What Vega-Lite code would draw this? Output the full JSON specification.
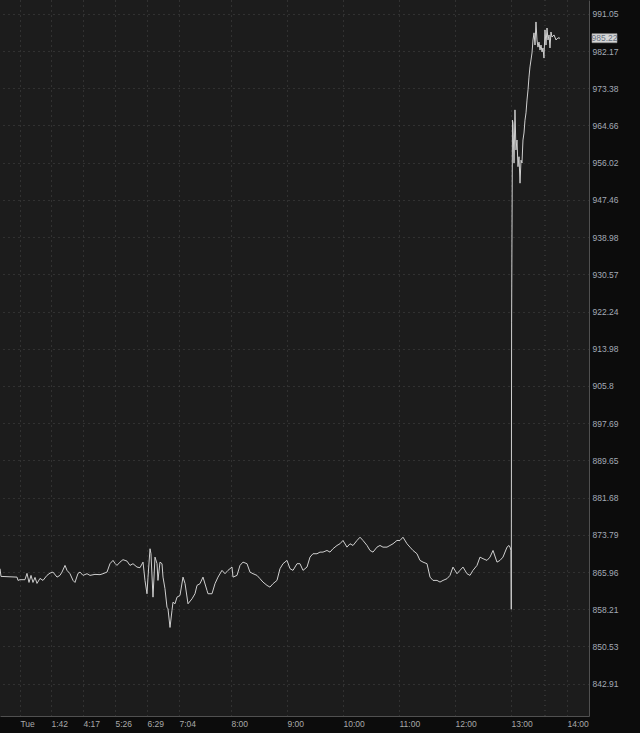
{
  "$schema": "https://vega.github.io/schema/vega-lite/v6.json",
  "width": 589,
  "height": 716,
  "autosize": {"type": "none"},
  "padding": {"left": 0, "top": 0, "right": 51, "bottom": 17},
  "background": "#0c0c0c",
  "config": {
    "view": {"fill": "#1c1c1c", "stroke": null},
    "font": "Liberation Sans",
    "axis": {
      "grid": true,
      "gridColor": "#474747",
      "gridDash": [1, 4],
      "gridWidth": 1,
      "domainColor": "#505050",
      "ticks": false,
      "title": null,
      "labelFontSize": 8.5,
      "labelOverlap": false,
      "labelFlush": false,
      "labelBound": false
    }
  },
  "datasets": {
    "price": [
      {"t": 3.875, "p": 866.67}, {"t": 3.893, "p": 865.06}, {"t": 4.179, "p": 864.91}, {"t": 4.196, "p": 864.22},
      {"t": 4.232, "p": 864.37}, {"t": 4.321, "p": 864.37}, {"t": 4.357, "p": 865.69}, {"t": 4.393, "p": 863.80},
      {"t": 4.429, "p": 865.27}, {"t": 4.464, "p": 863.80}, {"t": 4.5, "p": 864.85}, {"t": 4.536, "p": 863.59},
      {"t": 4.589, "p": 864.64}, {"t": 4.643, "p": 864.22}, {"t": 4.714, "p": 865.27}, {"t": 4.768, "p": 865.75},
      {"t": 4.821, "p": 865.96}, {"t": 4.893, "p": 864.91}, {"t": 4.946, "p": 865.27}, {"t": 4.982, "p": 865.96},
      {"t": 5.036, "p": 867.36}, {"t": 5.071, "p": 866.32}, {"t": 5.125, "p": 865.62}, {"t": 5.179, "p": 864.22},
      {"t": 5.214, "p": 863.80}, {"t": 5.268, "p": 865.69}, {"t": 5.304, "p": 865.96}, {"t": 5.357, "p": 865.27},
      {"t": 5.429, "p": 865.62}, {"t": 5.482, "p": 865.27}, {"t": 5.571, "p": 865.48}, {"t": 5.661, "p": 865.42},
      {"t": 5.714, "p": 865.62}, {"t": 5.786, "p": 865.96}, {"t": 5.839, "p": 867.72}, {"t": 5.893, "p": 868.41},
      {"t": 5.929, "p": 867.78}, {"t": 5.964, "p": 867.36}, {"t": 6.018, "p": 868.05}, {"t": 6.071, "p": 868.56},
      {"t": 6.143, "p": 868.26}, {"t": 6.196, "p": 867.36}, {"t": 6.25, "p": 867.72}, {"t": 6.321, "p": 867.01},
      {"t": 6.375, "p": 866.88}, {"t": 6.429, "p": 868.05}, {"t": 6.464, "p": 864.22}, {"t": 6.5, "p": 861.44},
      {"t": 6.518, "p": 864.91}, {"t": 6.554, "p": 870.86}, {"t": 6.571, "p": 869.81}, {"t": 6.607, "p": 860.73},
      {"t": 6.643, "p": 869.10}, {"t": 6.679, "p": 867.72}, {"t": 6.696, "p": 864.22}, {"t": 6.732, "p": 868.05},
      {"t": 6.768, "p": 867.72}, {"t": 6.786, "p": 864.91}, {"t": 6.821, "p": 862.49}, {"t": 6.857, "p": 858.64},
      {"t": 6.875, "p": 858.30}, {"t": 6.911, "p": 854.45}, {"t": 6.946, "p": 857.94}, {"t": 6.964, "p": 859.68},
      {"t": 7.0, "p": 859.35}, {"t": 7.036, "p": 860.73}, {"t": 7.089, "p": 861.08}, {"t": 7.143, "p": 864.91},
      {"t": 7.179, "p": 863.59}, {"t": 7.232, "p": 859.35}, {"t": 7.304, "p": 860.39}, {"t": 7.357, "p": 861.44},
      {"t": 7.393, "p": 863.18}, {"t": 7.446, "p": 863.53}, {"t": 7.5, "p": 864.91}, {"t": 7.571, "p": 862.13},
      {"t": 7.589, "p": 861.44}, {"t": 7.661, "p": 861.44}, {"t": 7.714, "p": 863.53}, {"t": 7.768, "p": 864.91},
      {"t": 7.839, "p": 866.32}, {"t": 7.893, "p": 865.62}, {"t": 7.946, "p": 866.32}, {"t": 8.018, "p": 867.01},
      {"t": 8.036, "p": 864.91}, {"t": 8.107, "p": 865.27}, {"t": 8.161, "p": 867.36}, {"t": 8.214, "p": 868.05},
      {"t": 8.286, "p": 867.72}, {"t": 8.339, "p": 865.96}, {"t": 8.393, "p": 865.62}, {"t": 8.464, "p": 865.27},
      {"t": 8.518, "p": 864.58}, {"t": 8.571, "p": 863.87}, {"t": 8.643, "p": 863.18}, {"t": 8.696, "p": 862.82},
      {"t": 8.75, "p": 863.53}, {"t": 8.821, "p": 864.22}, {"t": 8.875, "p": 866.67}, {"t": 8.929, "p": 867.72},
      {"t": 9.0, "p": 868.41}, {"t": 9.054, "p": 866.67}, {"t": 9.107, "p": 866.32}, {"t": 9.179, "p": 867.72},
      {"t": 9.232, "p": 867.72}, {"t": 9.286, "p": 866.32}, {"t": 9.357, "p": 867.01}, {"t": 9.411, "p": 869.10},
      {"t": 9.464, "p": 869.81}, {"t": 9.536, "p": 869.81}, {"t": 9.589, "p": 870.15}, {"t": 9.643, "p": 870.15},
      {"t": 9.714, "p": 870.50}, {"t": 9.768, "p": 870.15}, {"t": 9.821, "p": 870.86}, {"t": 9.893, "p": 871.55},
      {"t": 9.946, "p": 871.91}, {"t": 10.0, "p": 872.60}, {"t": 10.071, "p": 871.20}, {"t": 10.125, "p": 871.91},
      {"t": 10.179, "p": 871.55}, {"t": 10.25, "p": 872.60}, {"t": 10.304, "p": 873.29}, {"t": 10.357, "p": 872.60},
      {"t": 10.429, "p": 871.55}, {"t": 10.482, "p": 870.50}, {"t": 10.536, "p": 870.15}, {"t": 10.607, "p": 871.20},
      {"t": 10.661, "p": 871.55}, {"t": 10.714, "p": 871.20}, {"t": 10.786, "p": 871.20}, {"t": 10.839, "p": 871.55},
      {"t": 10.893, "p": 871.91}, {"t": 10.964, "p": 872.60}, {"t": 11.018, "p": 872.60}, {"t": 11.071, "p": 873.29},
      {"t": 11.143, "p": 871.91}, {"t": 11.196, "p": 871.20}, {"t": 11.25, "p": 870.50}, {"t": 11.321, "p": 869.81},
      {"t": 11.375, "p": 868.41}, {"t": 11.429, "p": 868.05}, {"t": 11.5, "p": 867.72}, {"t": 11.554, "p": 864.91},
      {"t": 11.607, "p": 864.22}, {"t": 11.679, "p": 864.22}, {"t": 11.732, "p": 863.87}, {"t": 11.786, "p": 864.22},
      {"t": 11.857, "p": 864.58}, {"t": 11.911, "p": 865.27}, {"t": 11.964, "p": 867.01}, {"t": 12.036, "p": 865.62},
      {"t": 12.089, "p": 866.32}, {"t": 12.143, "p": 867.01}, {"t": 12.214, "p": 865.62}, {"t": 12.268, "p": 865.27},
      {"t": 12.321, "p": 866.32}, {"t": 12.393, "p": 867.36}, {"t": 12.446, "p": 869.10}, {"t": 12.5, "p": 868.77},
      {"t": 12.571, "p": 868.41}, {"t": 12.625, "p": 869.10}, {"t": 12.679, "p": 870.50}, {"t": 12.75, "p": 868.05},
      {"t": 12.804, "p": 868.41}, {"t": 12.857, "p": 869.10}, {"t": 12.929, "p": 871.20}, {"t": 12.964, "p": 871.55},
      {"t": 12.982, "p": 871.20}, {"t": 13.0, "p": 870.50}, {"t": 13.005, "p": 858.21}, {"t": 13.011, "p": 919.9},
      {"t": 13.018, "p": 940.6}, {"t": 13.027, "p": 965.9}, {"t": 13.036, "p": 965.2}, {"t": 13.054, "p": 955.95},
      {"t": 13.071, "p": 968.3}, {"t": 13.089, "p": 958.97}, {"t": 13.107, "p": 961.28}, {"t": 13.125, "p": 955.1},
      {"t": 13.143, "p": 957.4}, {"t": 13.161, "p": 951.3}, {"t": 13.179, "p": 956.6}, {"t": 13.196, "p": 955.95},
      {"t": 13.214, "p": 961.28}, {"t": 13.232, "p": 962.9}, {"t": 13.25, "p": 965.9}, {"t": 13.268, "p": 967.6},
      {"t": 13.286, "p": 970.6}, {"t": 13.304, "p": 973.0}, {"t": 13.321, "p": 976.0}, {"t": 13.339, "p": 978.4},
      {"t": 13.357, "p": 980.05}, {"t": 13.375, "p": 981.7}, {"t": 13.393, "p": 984.8}, {"t": 13.411, "p": 986.5},
      {"t": 13.429, "p": 983.6}, {"t": 13.446, "p": 989.1}, {"t": 13.464, "p": 984.8}, {"t": 13.482, "p": 983.1},
      {"t": 13.5, "p": 984.3}, {"t": 13.518, "p": 982.4}, {"t": 13.536, "p": 983.6}, {"t": 13.554, "p": 981.95},
      {"t": 13.571, "p": 982.9}, {"t": 13.589, "p": 980.5}, {"t": 13.607, "p": 987.2}, {"t": 13.625, "p": 983.6},
      {"t": 13.643, "p": 987.65}, {"t": 13.661, "p": 984.8}, {"t": 13.679, "p": 986.0}, {"t": 13.696, "p": 982.9},
      {"t": 13.714, "p": 986.7}, {"t": 13.732, "p": 985.5}, {"t": 13.768, "p": 986.0}, {"t": 13.804, "p": 984.8},
      {"t": 13.839, "p": 985.3}, {"t": 13.875, "p": 985.22}
    ],
    "marker": [{"t": 13.607}],
    "last": [{"t": 14.67, "p": 985.22, "label": "985.22"}]
  },
  "layer": [
    {
      "data": {"name": "marker"},
      "mark": {"type": "rule", "color": "#474747", "strokeDash": [1, 4], "strokeWidth": 1},
      "encoding": {
        "x": {"field": "t", "type": "quantitative", "scale": {"domain": [3.875, 14.393], "nice": false, "zero": false}}
      }
    },
    {
      "data": {"name": "price"},
      "mark": {"type": "line", "color": "#cfcfcf", "strokeWidth": 1, "interpolate": "linear"},
      "encoding": {
        "x": {
          "field": "t",
          "type": "quantitative",
          "scale": {"domain": [3.875, 14.393], "nice": false, "zero": false},
          "axis": {
            "orient": "bottom",
            "values": [4.232, 4.786, 5.357, 5.929, 6.5, 7.071, 8, 9, 10, 11, 12, 13, 14],
            "labelExpr": "datum.value < 4.5 ? 'Tue' : datum.value < 5 ? '1:42' : datum.value < 5.6 ? '4:17' : datum.value < 6.2 ? '5:26' : datum.value < 6.8 ? '6:29' : datum.value < 7.5 ? '7:04' : format(datum.value, 'd') + ':00'",
            "labelAlign": "left",
            "labelBaseline": "top",
            "labelPadding": 3,
            "labelColor": "#a9a9a9"
          }
        },
        "y": {
          "field": "p",
          "type": "quantitative",
          "scale": {"type": "log", "domain": [836.36, 994.36], "nice": false, "zero": false},
          "axis": {
            "orient": "right",
            "values": [991.05, 982.17, 973.38, 964.66, 956.02, 947.46, 938.98, 930.57, 922.24, 913.98, 905.8, 897.69, 889.65, 881.68, 873.79, 865.96, 858.21, 850.53, 842.91],
            "labelExpr": "'' + datum.value",
            "labelAlign": "left",
            "labelBaseline": "middle",
            "labelPadding": 3,
            "labelColor": "#a3aab6"
          }
        }
      }
    },
    {
      "data": {"name": "last"},
      "mark": {"type": "point", "shape": "M-1,-0.36H1V0.36H-1Z", "size": 625, "filled": true, "fill": "#d6d6d6", "stroke": "#9a9a9a", "strokeWidth": 0.6, "opacity": 1},
      "encoding": {
        "x": {"field": "t", "type": "quantitative"},
        "y": {"field": "p", "type": "quantitative"}
      }
    },
    {
      "data": {"name": "last"},
      "mark": {"type": "text", "fontSize": 8.5, "color": "#66707e", "align": "center", "baseline": "middle"},
      "encoding": {
        "x": {"field": "t", "type": "quantitative"},
        "y": {"field": "p", "type": "quantitative"},
        "text": {"field": "label"}
      }
    }
  ]
}
